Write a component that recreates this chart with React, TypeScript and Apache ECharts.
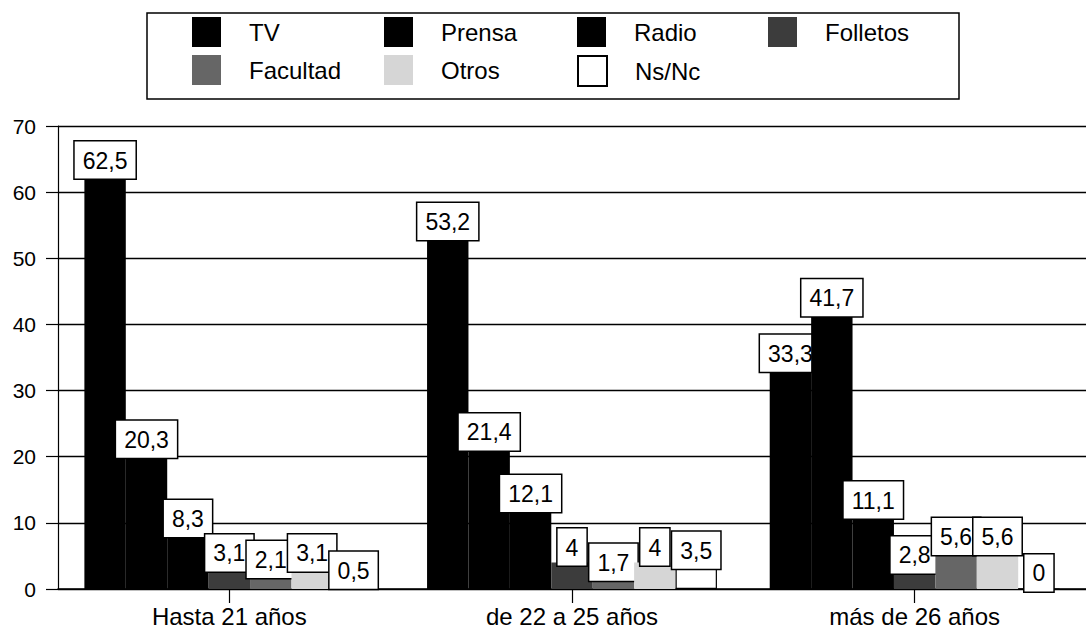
import React, { useEffect, useRef } from "react";
import * as echarts from "echarts";

const categories = ["Hasta 21 años", "de 22 a 25 años", "más de 26 años"];
const seriesNames = ["TV", "Prensa", "Radio", "Folletos", "Facultad", "Otros", "Ns/Nc"];
const tv = [62.5, 53.2, 33.3];
const prensa = [20.3, 21.4, 41.7];
const radio = [8.3, 12.1, 11.1];
const folletos = [3.1, 4, 2.8];
const facultad = [2.1, 1.7, 5.6];
const otros = [3.1, 4, 5.6];
const nsnc = [0.5, 3.5, 0];
const yTicks = [0, 10, 20, 30, 40, 50, 60, 70];

const seriesValues = [tv, prensa, radio, folletos, facultad, otros, nsnc];
const colors = ["#000000", "#000000", "#000000", "#3c3c3c", "#666666", "#d6d6d6", "#ffffff"];
const FONT = "'Liberation Sans', Arial, Helvetica, sans-serif";

export default function App() {
  const ref = useRef<HTMLDivElement>(null);
  useEffect(() => {
    document.body.style.margin = "0";
    const chart = echarts.init(ref.current!, null, { renderer: "svg" });
    const legendLefts = [192, 384, 577, 768];
    const legendTops = [17, 55];
    const legends = seriesNames.map((name, i) => ({
      show: true,
      data: [name],
      left: legendLefts[i % 4],
      top: legendTops[Math.floor(i / 4)],
      itemWidth: 29,
      itemHeight: 30,
      icon: "rect",
      selectedMode: false,
      padding: 0,
      textStyle: {
        fontFamily: FONT,
        fontSize: 24,
        color: "#000",
        padding: [0, 0, 0, 23],
      },
    }));
    const series = seriesNames.map((name, i) => ({
      name,
      type: "bar",
      data: seriesValues[i],
      z: 2 + i,
      barGap: "0%",
      barCategoryGap: "15.4%",
      itemStyle: {
        color: colors[i],
        borderColor: i === 6 ? "#000" : colors[i],
        borderWidth: i === 6 ? 1.2 : 0,
      },
      label: {
        show: true,
        position: "top",
        distance: -3,
        fontFamily: FONT,
        fontSize: 23,
        lineHeight: 26,
        color: "#000",
        backgroundColor: "#fff",
        borderColor: "#000",
        borderWidth: 1.5,
        padding: [6, 8, 5, 8],
        formatter: (p: any) => String(p.value).replace(".", ","),
      },
    }));
    chart.setOption({
      animation: false,
      backgroundColor: "#fff",
      textStyle: { fontFamily: FONT },
      legend: legends,
      graphic: [
        {
          type: "rect",
          shape: { x: 147, y: 13, width: 812, height: 86 },
          style: { fill: "none", stroke: "#000", lineWidth: 1.5 },
          silent: true,
        },
      ],
      grid: { left: 58, right: 0, top: 126, bottom: 636 - 589, containLabel: false },
      xAxis: {
        type: "category",
        data: categories,
        axisLine: { show: true, lineStyle: { color: "#000", width: 1.5 } },
        axisTick: { show: true, alignWithLabel: true, length: 14, lineStyle: { color: "#000", width: 1.2 } },
        axisLabel: { fontFamily: FONT, fontSize: 24, color: "#000", margin: 15 },
      },
      yAxis: {
        type: "value",
        min: yTicks[0],
        max: yTicks[yTicks.length - 1],
        interval: 10,
        axisLine: { show: true, lineStyle: { color: "#000", width: 1.2 } },
        axisTick: { show: true, length: 12, lineStyle: { color: "#000", width: 1.2 } },
        axisLabel: { fontFamily: FONT, fontSize: 21, color: "#000", margin: 22 },
        splitLine: { show: true, lineStyle: { color: "#000", width: 1.3 } },
      },
      series,
    });
    return () => chart.dispose();
  }, []);
  return <div ref={ref} style={{ width: 1086, height: 636 }} />;
}
